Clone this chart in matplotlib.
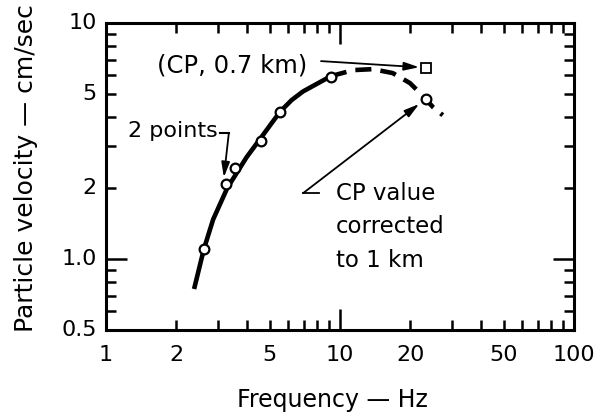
import matplotlib
matplotlib.use("Agg")
import matplotlib.pyplot as plt
from matplotlib.ticker import FixedLocator, NullFormatter

plt.rcParams['font.family'] = ['DejaVu Sans']

# Measured data points (open circles)
freq_pts = [2.62, 3.26, 3.56, 4.6, 5.54, 9.15]
vel_pts = [1.10, 2.08, 2.43, 3.16, 4.2, 5.9]

# CP values
cp_freq = [23.3]
cp_corrected = [4.76]
cp_raw = [6.44]

# Fitted curve (solid part)
curve_f = [2.38, 2.62, 2.87, 3.30, 3.99, 4.58, 5.12, 5.56, 6.22, 6.95, 9.15]
curve_v = [0.746, 1.10, 1.47, 2.0, 2.70, 3.25, 3.78, 4.22, 4.72, 5.13, 5.96]
# Extrapolated curve (dashed part)
dash_f = [9.15, 11.4, 13.8, 16.8, 19.9, 22.0, 25.0, 27.5]
dash_v = [5.96, 6.32, 6.38, 6.14, 5.57, 5.05, 4.4, 4.07]

xticks = [1, 2, 5, 10, 20, 50, 100]
xticklabels = ['1', '2', '5', '10', '20', '50', '100']
yticks = [0.5, 1.0, 2, 5, 10]
yticklabels = ['0.5', '1.0', '2', '5', '10']

fig = plt.figure(figsize=(6.08, 4.2), dpi=100)
ax = fig.add_axes([0.1743, 0.2143, 0.944 - 0.1743, 0.945 - 0.2143])
ax.set_xscale('log')
ax.set_yscale('log')
ax.set_xlim(1, 100)
ax.set_ylim(0.5, 10)

ax.plot(curve_f, curve_v, color='black', lw=3.3, solid_capstyle='butt', solid_joinstyle='round', zorder=2)
ax.plot(dash_f, dash_v, color='black', lw=3.3, dashes=(3.5, 2.0), zorder=2)
ax.plot(freq_pts, vel_pts, 'o', ms=7, mfc='white', mec='black', mew=1.6, zorder=3)
ax.plot(cp_freq, cp_corrected, 'o', ms=7, mfc='white', mec='black', mew=1.6, zorder=3)
ax.plot(cp_freq, cp_raw, 's', ms=7, mfc='white', mec='black', mew=1.3, zorder=3)

# ticks
ax.xaxis.set_major_locator(FixedLocator([1, 10, 100]))
ax.xaxis.set_minor_locator(FixedLocator([2, 3, 4, 5, 6, 7, 8, 9, 20, 30, 40, 50, 60, 70, 80, 90]))
ax.xaxis.set_major_formatter(NullFormatter())
ax.xaxis.set_minor_formatter(NullFormatter())
ax.yaxis.set_major_locator(FixedLocator([1, 10]))
ax.yaxis.set_minor_locator(FixedLocator([0.6, 0.7, 0.8, 0.9, 2, 3, 4, 5, 6, 7, 8, 9]))
ax.yaxis.set_major_formatter(NullFormatter())
ax.yaxis.set_minor_formatter(NullFormatter())
ax.tick_params(which='both', direction='in', top=True, right=True, width=1.8, color='black')
ax.tick_params(which='major', length=15)
ax.tick_params(which='minor', length=7)
for s in ax.spines.values():
    s.set_linewidth(2.2)

# tick labels as text
for v, lab in zip(xticks, xticklabels):
    ax.text(v, -0.05, lab, transform=ax.get_xaxis_transform(), ha='center', va='top', fontsize=16)
for v, lab in zip(yticks, yticklabels):
    ax.text(-0.02, v, lab, transform=ax.get_yaxis_transform(), ha='right', va='center', fontsize=16)

fig.text(0.546, 0.048, 'Frequency \u2014 Hz', ha='center', va='center', fontsize=17)
fig.text(0.043, 0.6, 'Particle velocity \u2014 cm/sec', ha='center', va='center', rotation=90, fontsize=18)

# annotations
ax.text(1.65, 6.64, '(CP, 0.7 km)', ha='left', va='center', fontsize=17.5)
ax.annotate('', xy=(21.8, 6.5), xytext=(8.3, 6.9),
            arrowprops=dict(arrowstyle='-|>,head_length=0.9,head_width=0.25', color='black', lw=1.3,
                            shrinkA=0, shrinkB=0))

ax.text(1.24, 3.48, '2 points', ha='left', va='center', fontsize=16)
ax.plot([3.07, 3.35], [3.42, 3.42], color='black', lw=1.5)
ax.annotate('', xy=(3.19, 2.22), xytext=(3.35, 3.42),
            arrowprops=dict(arrowstyle='-|>,head_length=0.9,head_width=0.25', color='black', lw=1.3,
                            shrinkA=0, shrinkB=0))

ax.text(9.6, 1.90, 'CP value', ha='left', va='center', fontsize=16.5)
ax.text(9.6, 1.37, 'corrected', ha='left', va='center', fontsize=16.5)
ax.text(9.6, 0.99, 'to 1 km', ha='left', va='center', fontsize=16.5)
ax.plot([6.95, 8.13], [1.90, 1.90], color='black', lw=1.3)
ax.annotate('', xy=(21.8, 4.54), xytext=(6.95, 1.90),
            arrowprops=dict(arrowstyle='-|>,head_length=0.9,head_width=0.25', color='black', lw=1.3,
                            shrinkA=0, shrinkB=0))

fig.savefig('out.png', dpi=100)
